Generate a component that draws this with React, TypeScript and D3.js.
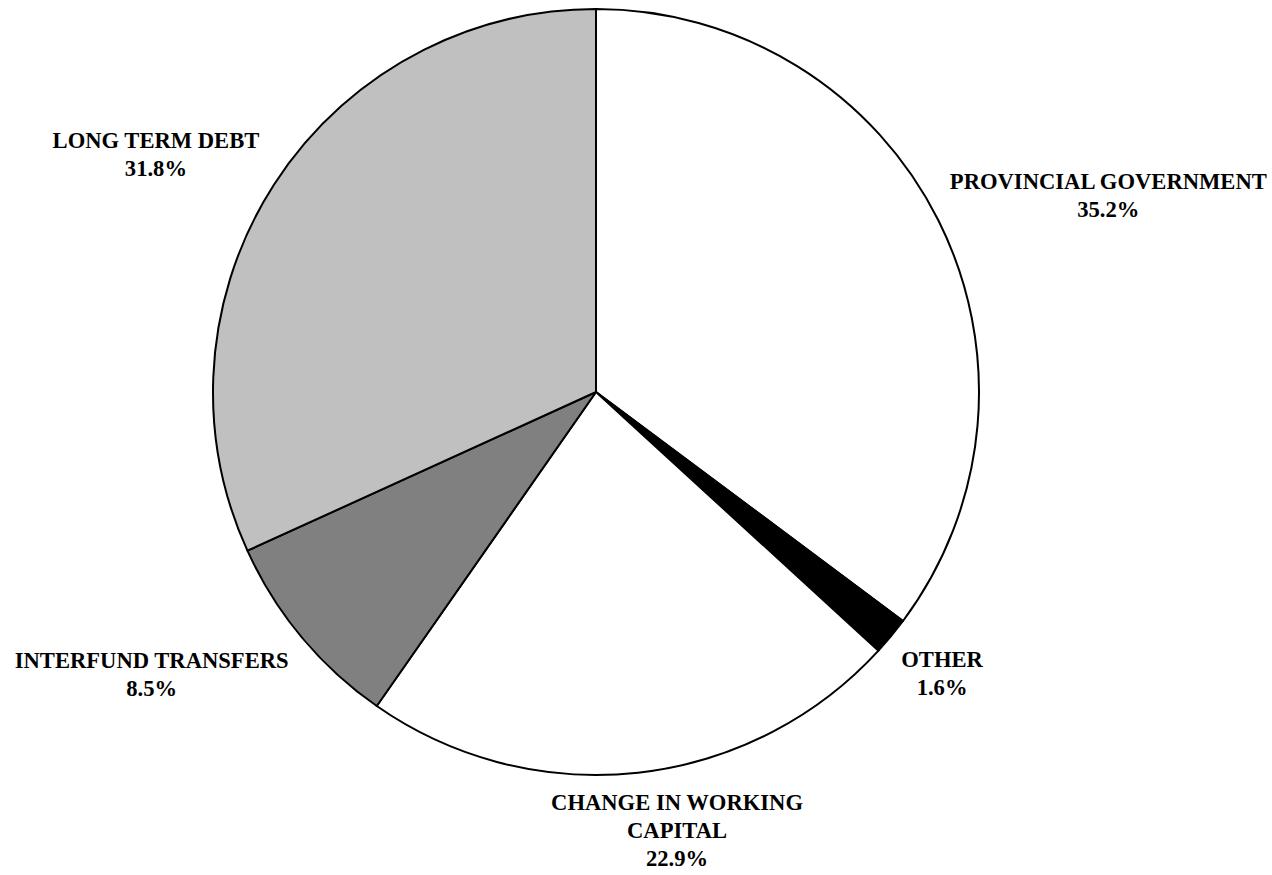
import React from "react";
import * as d3 from "d3";

const categories = [
  ["PROVINCIAL GOVERNMENT"],
  ["OTHER"],
  ["CHANGE IN WORKING", "CAPITAL"],
  ["INTERFUND TRANSFERS"],
  ["LONG TERM DEBT"],
];
const values = [35.2, 1.6, 22.9, 8.5, 31.8];
const valueLabels = ["35.2%", "1.6%", "22.9%", "8.5%", "31.8%"];

const fills = ["#ffffff", "#000000", "#ffffff", "#808080", "#c0c0c0"];
const labelOffsets: [number, number][] = [
  [170, -25],
  [51, 37],
  [39, 58],
  [-150, 37],
  [-118, -30],
];

const W = 1272;
const H = 875;
const CX = 596;
const CY = 392;
const R = 383;
const FONT = 22.6;
const LINE = 28;

export default function App() {
  const pie = d3.pie<number>().sort(null).value((d) => d);
  const arcs = pie(values);
  const arc = d3.arc<d3.PieArcDatum<number>>().innerRadius(0).outerRadius(R);
  const edge = d3.arc<d3.PieArcDatum<number>>().innerRadius(R).outerRadius(R);

  return (
    <svg
      width={W}
      height={H}
      style={{ position: "absolute", left: 0, top: 0, background: "#fff" }}
    >
      <g transform={`translate(${CX},${CY})`}>
        {arcs.map((a, i) => (
          <path
            key={i}
            d={arc(a) || ""}
            fill={fills[i]}
            stroke="#000"
            strokeWidth={2}
            strokeLinejoin="round"
          />
        ))}
        {arcs.map((a, i) => {
          const [x, y] = edge.centroid(a);
          const lines = [...categories[i], valueLabels[i]];
          const cx = x + labelOffsets[i][0];
          const cy = y + labelOffsets[i][1];
          const n = lines.length;
          return (
            <text
              key={"t" + i}
              textAnchor="middle"
              fontFamily="'Liberation Serif', 'Times New Roman', serif"
              fontWeight="bold"
              fontSize={FONT}
              fill="#000"
            >
              {lines.map((l, j) => (
                <tspan key={j} x={cx} y={cy + (j - (n - 1) / 2) * LINE + 7.5}>
                  {l}
                </tspan>
              ))}
            </text>
          );
        })}
      </g>
    </svg>
  );
}
